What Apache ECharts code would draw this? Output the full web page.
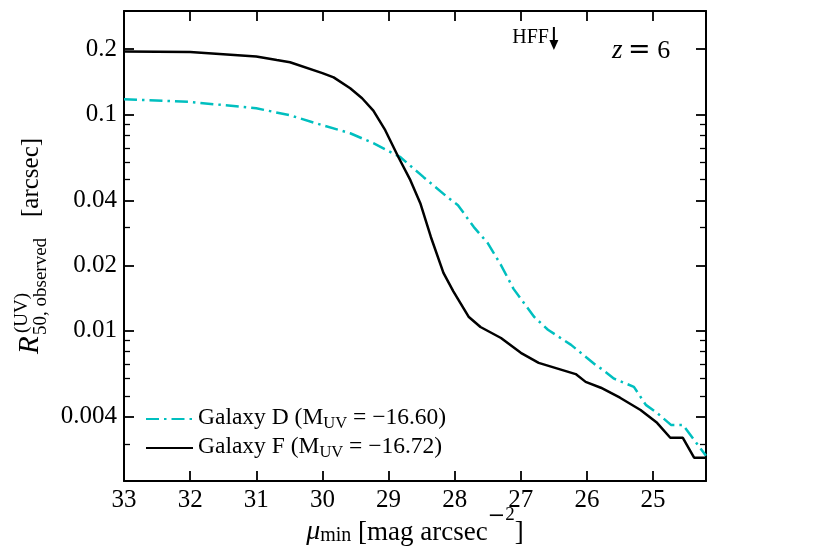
<!DOCTYPE html>
<html><head><meta charset="utf-8">
<script src="https://cdn.jsdelivr.net/npm/echarts@6/dist/echarts.min.js"></script>
<style>html,body{margin:0;padding:0;background:#fff}#c{width:830px;height:554px}</style>
</head><body><div id="c"></div>
<script>
const FONT = '"Liberation Serif", "DejaVu Serif", serif';
const MATHFONT = '"DejaVu Serif", serif';

// ---- data ----
const galaxyD_mu  = [33.0, 32.0, 31.0, 30.49, 30.0, 29.58, 29.23, 28.82, 28.47, 28.11, 27.95, 27.71, 27.5, 27.30, 27.11, 26.80, 26.59, 26.24, 25.86, 25.76, 25.59, 25.29, 25.11, 24.94, 24.73, 24.55, 24.2];
const galaxyD_r50 = [0.1173, 0.114, 0.1066, 0.0989, 0.089, 0.0817, 0.0735, 0.0633, 0.0512, 0.0414, 0.038, 0.0301, 0.0254, 0.0201, 0.0156, 0.0116, 0.0101, 0.0086, 0.0069, 0.0066, 0.0060, 0.0055, 0.00454, 0.00417, 0.00367, 0.00367, 0.00264];
const galaxyF_mu  = [33.0, 32.0, 31.0, 30.69, 30.49, 30.0, 29.83, 29.58, 29.40, 29.23, 29.05, 28.85, 28.67, 28.52, 28.36, 28.17, 28.02, 27.79, 27.61, 27.30, 27.0, 26.73, 26.17, 26.02, 25.79, 25.50, 25.19, 24.94, 24.74, 24.55, 24.38, 24.2];
const galaxyF_r50 = [0.195, 0.194, 0.185, 0.178, 0.174, 0.155, 0.148, 0.1318, 0.1186, 0.104, 0.0844, 0.0633, 0.0496, 0.0388, 0.0271, 0.0185, 0.0152, 0.0116, 0.0104, 0.00925, 0.0079, 0.0071, 0.0063, 0.0058, 0.00545, 0.0049, 0.0043, 0.00375, 0.0032, 0.0032, 0.00259, 0.00259];
const seriesNames = ['Galaxy D', 'Galaxy F'];
const seriesMuv   = ['\u221216.60', '\u221216.72'];
const xTickValues = [33, 32, 31, 30, 29, 28, 27, 26, 25];
const xTickLabels = ['33', '32', '31', '30', '29', '28', '27', '26', '25'];
const yMajorValues = [0.004, 0.01, 0.02, 0.04, 0.1, 0.2];
const yMajorLabels = ['0.004', '0.01', '0.02', '0.04', '0.1', '0.2'];
const yMinorValues = [0.003, 0.005, 0.006, 0.007, 0.008, 0.009, 0.03, 0.05, 0.06, 0.07, 0.08, 0.09];
const xRange = [24.2, 33];
const yRange = [0.00202, 0.3];
const hffMu = 26.5;
const redshiftLabel = '6';

function pickLabel(values, labels, v) {
  let best = 0, bd = Infinity;
  values.forEach((t, i) => { const d = Math.abs(Math.log(t) - Math.log(v)); if (d < bd) { bd = d; best = i; } });
  return labels[best];
}
function pickLabelLin(values, labels, v) {
  let best = 0, bd = Infinity;
  values.forEach((t, i) => { const d = Math.abs(t - v); if (d < bd) { bd = d; best = i; } });
  return labels[best];
}

function yAx(pos, values, len, withLabels, lineShow) {
  return {
    type: 'log', logBase: 10, min: yRange[0], max: yRange[1], position: pos,
    axisLine: { show: lineShow, onZero: false, lineStyle: { color: '#000', width: 2 } },
    axisTick: { show: true, inside: true, length: len, customValues: values,
      lineStyle: { color: '#000', width: len > 7 ? 1.8 : 1.3 } },
    axisLabel: withLabels ? { show: true, customValues: values, margin: 7,
      fontFamily: FONT, fontSize: 25, color: '#000',
      formatter: v => pickLabel(yMajorValues, yMajorLabels, v) } : { show: false },
    splitLine: { show: false }, minorTick: { show: false }, minorSplitLine: { show: false }
  };
}
function xAx(pos, withLabels) {
  return {
    type: 'value', min: xRange[0], max: xRange[1], inverse: true, position: pos,
    axisLine: { show: true, onZero: false, lineStyle: { color: '#000', width: 2 } },
    axisTick: { show: true, inside: true, length: 10, customValues: xTickValues,
      lineStyle: { color: '#000', width: 1.8 } },
    axisLabel: withLabels ? { show: true, customValues: xTickValues, margin: 7,
      fontFamily: FONT, fontSize: 25, color: '#000',
      formatter: v => pickLabelLin(xTickValues, xTickLabels, v) } : { show: false },
    splitLine: { show: false }
  };
}

const chart = echarts.init(document.getElementById('c'), null, { renderer: 'canvas' });
chart.setOption({
  animation: false,
  backgroundColor: '#fff',
  grid: { left: 124, right: 124, top: 11, bottom: 73, containLabel: false, outerBoundsMode: 'none' },
  xAxis: [xAx('bottom', true), xAx('top', false)],
  yAxis: [
    yAx('left', yMajorValues, 10, true, true),
    yAx('left', yMinorValues, 6, false, false),
    yAx('right', yMajorValues, 10, false, true),
    yAx('right', yMinorValues, 6, false, false)
  ],
  legend: {
    orient: 'vertical', left: 145, top: 406, padding: 0, itemGap: 3,
    itemWidth: 47, itemHeight: 14,
    data: seriesNames,
    itemStyle: { opacity: 0 },
    formatter: name => {
      const i = seriesNames.indexOf(name);
      return '{t|' + name + ' (M}{s|UV}{t| = ' + seriesMuv[i] + ')}';
    },
    textStyle: {
      fontFamily: FONT, color: '#000',
      rich: {
        t: { fontFamily: FONT, fontSize: 23.5, lineHeight: 26, verticalAlign: 'top', color: '#000' },
        s: { fontFamily: FONT, fontSize: 16.5, lineHeight: 16, verticalAlign: 'bottom', color: '#000' }
      }
    }
  },
  series: [
    {
      name: seriesNames[0], type: 'line', xAxisIndex: 0, yAxisIndex: 0,
      data: galaxyD_mu.map((m, i) => [m, galaxyD_r50[i]]),
      symbol: 'none', showSymbol: false,
      lineStyle: { color: '#00bfbf', width: 2.5, type: [13, 5, 2.5, 5], cap: 'butt' },
      itemStyle: { color: '#00bfbf' }, z: 2
    },
    {
      name: seriesNames[1], type: 'line', xAxisIndex: 0, yAxisIndex: 0,
      data: galaxyF_mu.map((m, i) => [m, galaxyF_r50[i]]),
      symbol: 'none', showSymbol: false,
      lineStyle: { color: '#000', width: 2.5 },
      itemStyle: { color: '#000' }, z: 3
    }
  ]
});

const px = chart.convertToPixel({ xAxisIndex: 0 }, hffMu);
const base = { fontFamily: FONT, fill: '#000' };
chart.setOption({
  graphic: [
    // y-axis title (rotated)
    {
      type: 'group', x: 40, y: 354, rotation: Math.PI / 2, silent: true,
      children: [
        { type: 'text', x: 0, y: -10, style: Object.assign({}, base, { text: 'R', fontSize: 29, fontStyle: 'italic', verticalAlign: 'middle' }) },
        { type: 'text', x: 19, y: 1, style: Object.assign({}, base, { text: '50, observed', fontSize: 19, verticalAlign: 'middle' }) },
        { type: 'text', x: 21, y: -18, style: Object.assign({}, base, { text: '(UV)', fontSize: 19, verticalAlign: 'middle' }) },
        { type: 'text', x: 137, y: -8.5, style: Object.assign({}, base, { text: '[arcsec]', fontSize: 25, verticalAlign: 'middle' }) }
      ]
    },
    // x-axis title
    {
      type: 'text', x: 415, y: 506, silent: true,
      style: Object.assign({}, base, {
        text: '{mu|\u03bc}{sub|min}{t| [mag arcsec}{supm|\u2212}{sup|2}{t|]}',
        align: 'center', verticalAlign: 'top',
        rich: {
          mu: { fontFamily: FONT, fontSize: 28, fontStyle: 'italic', lineHeight: 40, verticalAlign: 'bottom' },
          t: { fontFamily: FONT, fontSize: 27, lineHeight: 40, verticalAlign: 'bottom' },
          sub: { fontFamily: FONT, fontSize: 20, lineHeight: 20, verticalAlign: 'bottom' },
          supm: { fontFamily: MATHFONT, fontSize: 21, lineHeight: 23, verticalAlign: 'top' },
          sup: { fontFamily: FONT, fontSize: 19, lineHeight: 23, verticalAlign: 'top' }
        }
      })
    },
    // z = 6
    {
      type: 'text', x: 612, y: 51, silent: true,
      style: Object.assign({}, base, {
        text: '{i|z}{e|\u2009=\u2005}{n|' + redshiftLabel + '}',
        verticalAlign: 'middle', align: 'left',
        rich: {
          i: { fontFamily: FONT, fontSize: 27, fontStyle: 'italic' },
          e: { fontFamily: MATHFONT, fontSize: 27 },
          n: { fontFamily: FONT, fontSize: 26 }
        }
      })
    },
    // HFF marker
    { type: 'text', x: px - 5, y: 38, silent: true,
      style: Object.assign({}, base, { text: 'HFF', fontSize: 20, align: 'right', verticalAlign: 'middle' }) },
    { type: 'line', silent: true, shape: { x1: px, y1: 27, x2: px, y2: 43 }, style: { stroke: '#000', lineWidth: 2 } },
    { type: 'polygon', silent: true, shape: { points: [[px - 4.5, 40], [px + 4.5, 40], [px, 50]] }, style: { fill: '#000' } }
  ]
});
</script>
</body></html>
